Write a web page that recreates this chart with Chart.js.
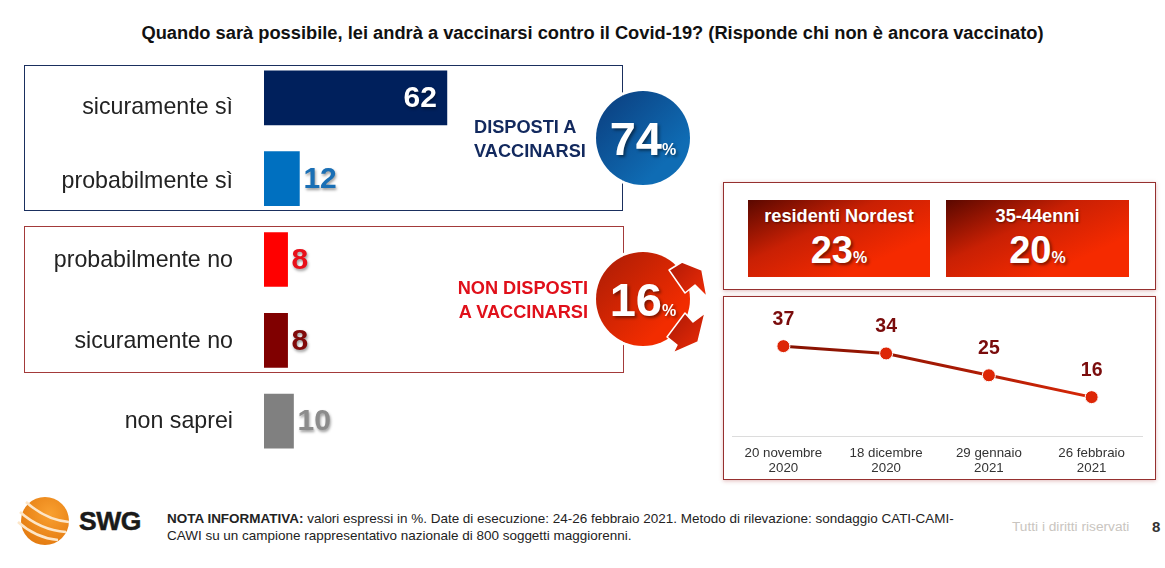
<!DOCTYPE html>
<html lang="it">
<head>
<meta charset="utf-8">
<title>SWG vaccini</title>
<script src="https://cdn.jsdelivr.net/npm/chart.js@4"></script>
<style>
html, body { margin: 0; padding: 0; background: #fff; }
body { width: 1165px; height: 568px; position: relative; overflow: hidden; font-family: "Liberation Sans", Arial, sans-serif; }
.abs { position: absolute; }
canvas { position: absolute; }
#titolo { left: 0; top: 22px; width: 1185px; text-align: center; font-size: 18.3px; font-weight: bold; color: #111; white-space: nowrap; }
.box { position: absolute; box-sizing: border-box; background: #fff; }
#boxBlu { left: 24px; top: 65px; width: 599px; height: 146px; border: 1.5px solid #1a2f5e; }
#boxRosso { left: 24px; top: 226px; width: 600px; height: 147px; border: 1.5px solid #a33a3a; }
#boxTop, #boxLinea { left: 723px; width: 433px; border: 1.5px solid #96302f; box-shadow: 0 1px 4px rgba(170,60,60,.35); }
#boxTop { top: 182px; height: 108px; }
#boxLinea { top: 296px; height: 184px; }
.lab { position: absolute; font-weight: bold; font-size: 18.2px; line-height: 24px; text-align: right; white-space: nowrap; }
.cerchio { position: absolute; width: 94px; height: 94px; border-radius: 50%; color: #fff; font-weight: bold; text-align: center; font-size: 47px; line-height: 96px; text-shadow: 2px 2px 3px rgba(0,0,0,.45); white-space: nowrap; }
.cerchio small { font-size: 16px; }
#c74 { left: 596px; top: 91px; background: linear-gradient(135deg, #0b3c7c 0%, #0f6cb4 75%); box-shadow: 0 0 0 3px #fff; }
#c16 { left: 596px; top: 252px; background: linear-gradient(135deg, #a81c06 0%, #f22c00 75%); box-shadow: 0 0 0 3px #fff; }
.rett { position: absolute; top: 200px; height: 77px; background: linear-gradient(155deg, #5a0800 0%, #c92004 38%, #f52a00 75%); color: #fff; text-align: center; font-weight: bold; }
.rett .t { font-size: 18.2px; margin-top: 5px; line-height: 22px; text-shadow: 1px 1px 2px rgba(0,0,0,.4); white-space: nowrap; }
.rett .n { font-size: 38px; line-height: 46px; text-shadow: 2px 2px 3px rgba(0,0,0,.45); white-space: nowrap; }
.rett .n small { font-size: 16px; }
#nota { left: 167px; top: 510px; width: 810px; font-size: 13.48px; line-height: 17px; color: #222; white-space: nowrap; }
#diritti { left: 1012px; top: 519px; font-size: 13.7px; color: #c9c5c0; white-space: nowrap; }
#pagina { left: 1152px; top: 518px; font-size: 15px; font-weight: bold; color: #333; }
#swg { left: 79px; top: 506px; font-size: 26.5px; font-weight: bold; color: #1a1a1a; letter-spacing: -.5px; -webkit-text-stroke: .5px #1a1a1a; }
</style>
</head>
<body>
<div id="titolo" class="abs">Quando sarà possibile, lei andrà a vaccinarsi contro il Covid-19? (Risponde chi non è ancora vaccinato)</div>

<div id="boxBlu" class="box"></div>
<div id="boxRosso" class="box"></div>
<div id="boxTop" class="box"></div>
<div id="boxLinea" class="box"></div>

<canvas id="barre" width="559" height="420" style="left:0;top:50px;width:559px;height:420px"></canvas>
<canvas id="linea" width="411" height="176" style="left:732px;top:300px;width:411px;height:176px"></canvas>

<div class="lab" style="left:440px;top:115px;width:148px;color:#12295e;text-align:left;padding-left:34px;box-sizing:border-box">DISPOSTI A<br>VACCINARSI</div>
<div class="lab" style="left:440px;top:276px;width:148px;color:#e0101a">NON DISPOSTI<br>A VACCINARSI</div>

<div id="c74" class="cerchio">74<small>%</small></div>
<div id="c16" class="cerchio">16<small>%</small></div>

<svg class="abs" style="left:660px;top:245px" width="60" height="115" viewBox="0 0 60 115">
  <defs>
    <linearGradient id="fr" x1="0" y1="0" x2="1" y2="1"><stop offset="0" stop-color="#a81806"/><stop offset="1" stop-color="#f02c06"/></linearGradient>
  </defs>
  <path d="M15 7 L22 17 L42 25 L47 52 L35 40 L25 48 L9 25 L22 17 Z" fill="url(#fr)" stroke="#fff" stroke-width="1.5" stroke-linejoin="round"/>
  <path d="M45 68 L38 97 L13 108 L17 100 L7 92 L25 68 L33 77 Z" fill="url(#fr)" stroke="#fff" stroke-width="1.5" stroke-linejoin="round"/>
</svg>

<div class="rett" style="left:748px;width:182px"><div class="t">residenti Nordest</div><div class="n">23<small>%</small></div></div>
<div class="rett" style="left:946px;width:183px"><div class="t">35-44enni</div><div class="n">20<small>%</small></div></div>

<svg class="abs" style="left:12px;top:494px" width="62" height="54" viewBox="0 0 62 54">
  <defs>
    <radialGradient id="sf" cx=".6" cy=".35" r=".75"><stop offset="0" stop-color="#f9a030"/><stop offset="1" stop-color="#e2780e"/></radialGradient>
  </defs>
  <circle cx="33" cy="27" r="24" fill="url(#sf)"/>
  <path d="M8 18 Q28 36 54 38 M6 28 Q24 44 46 46 M14 8 Q34 26 57 28" stroke="#fde6c8" stroke-width="2.5" fill="none"/>
</svg>
<div id="swg" class="abs">SWG</div>

<div id="nota" class="abs"><b>NOTA INFORMATIVA:</b> valori espressi in %. Date di esecuzione: 24-26 febbraio 2021. Metodo di rilevazione: sondaggio CATI-CAMI-<br>CAWI su un campione rappresentativo nazionale di 800 soggetti maggiorenni.</div>
<div id="diritti" class="abs">Tutti i diritti riservati</div>
<div id="pagina" class="abs">8</div>

<script>
const categorie = ["sicuramente sì", "probabilmente sì", "probabilmente no", "sicuramente no", "non saprei"];
const valori = [62, 12, 8, 8, 10];
const coloriBarre = ["#00205c", "#0070c0", "#ff0000", "#800000", "#808080"];
const coloriEtichette = ["#ffffff", "#1a6fb5", "#e8101a", "#800a0a", "#8c8c8c"];

const date = [["20 novembre", "2020"], ["18 dicembre", "2020"], ["29 gennaio", "2021"], ["26 febbraio", "2021"]];
const trend = [37, 34, 25, 16];

const FONT = '"Liberation Sans", Arial, sans-serif';

// la scala aggiunge padding per le etichette: qui serve l'area esatta
function azzeraPadding(scale) {
    scale.paddingTop = 0;
    scale.paddingBottom = 0;
    scale.paddingLeft = 0;
    scale.paddingRight = 0;
}

// nell'originale le prime etichette non sono centrate sulla barra
const spostaEtichette = {
    id: "spostaEtichette",
    beforeDraw(chart) {
        const scarti = [10, 3, 1, 1, 1];
        chart.scales.y.getLabelItems().forEach((item, i) => {
            item.options.translation[1] += scarti[i];
        });
    }
};

// etichette delle barre, dentro la prima e fuori dalle altre
const etichetteBarre = {
    id: "etichetteBarre",
    afterDatasetsDraw(chart) {
        const ctx = chart.ctx;
        chart.getDatasetMeta(0).data.forEach((bar, i) => {
            ctx.save();
            ctx.font = "bold 30px " + FONT;
            ctx.textBaseline = "middle";
            ctx.fillStyle = coloriEtichette[i];
            ctx.shadowColor = "rgba(0,0,0,0.4)";
            ctx.shadowBlur = 3;
            ctx.shadowOffsetX = 1;
            ctx.shadowOffsetY = 2;
            if (i === 0) {
                ctx.textAlign = "right";
                ctx.fillText(valori[i], bar.x - 10, bar.y + 1);
            } else {
                ctx.textAlign = "left";
                ctx.fillText(valori[i], bar.x + 4, bar.y + 1);
            }
            ctx.restore();
        });
    }
};

new Chart(document.getElementById("barre"), {
    type: "bar",
    plugins: [spostaEtichette, etichetteBarre],
    data: {
        labels: categorie,
        datasets: [{ data: valori, backgroundColor: coloriBarre, barThickness: 54 }]
    },
    options: {
        indexAxis: "y",
        responsive: false,
        maintainAspectRatio: false,
        animation: false,
        layout: { padding: { top: 7.5, bottom: 8.5, left: 0, right: 0 } },
        plugins: { legend: { display: false }, tooltip: { enabled: false } },
        scales: {
            x: { display: false, min: 0, max: 100 },
            y: {
                afterFit(scale) { scale.width = 264; azzeraPadding(scale); },
                grid: { display: false },
                border: { display: false },
                ticks: { color: "#222", font: { family: FONT, size: 23.2 }, padding: 23 }
            }
        }
    }
});

// etichette sopra i punti della linea
const etichetteLinea = {
    id: "etichetteLinea",
    afterDatasetsDraw(chart) {
        const ctx = chart.ctx;
        chart.getDatasetMeta(0).data.forEach((pt, i) => {
            ctx.save();
            ctx.font = "bold 19.5px " + FONT;
            ctx.textAlign = "center";
            ctx.textBaseline = "middle";
            ctx.fillStyle = "#7a0c0c";
            ctx.fillText(trend[i], pt.x, pt.y - 27);
            ctx.restore();
        });
    }
};

new Chart(document.getElementById("linea"), {
    type: "line",
    plugins: [etichetteLinea],
    data: {
        labels: date,
        datasets: [{
            data: trend,
            tension: 0,
            borderWidth: 3,
            borderColor(c) {
                const area = c.chart.chartArea;
                if (!area) return "#c02008";
                const g = c.chart.ctx.createLinearGradient(area.left, 0, area.right, 0);
                g.addColorStop(0, "#7a0f00");
                g.addColorStop(0.55, "#a81a04");
                g.addColorStop(1, "#ea2c08");
                return g;
            },
            pointRadius: 6.5,
            pointBackgroundColor: "#dd2606",
            pointBorderColor: "#ffffff",
            pointBorderWidth: 1
        }]
    },
    options: {
        responsive: false,
        maintainAspectRatio: false,
        animation: false,
        layout: { padding: 0, autoPadding: false },
        plugins: { legend: { display: false }, tooltip: { enabled: false } },
        scales: {
            y: { display: false, min: 0, max: 56 },
            x: {
                offset: true,
                afterFit(scale) { scale.height = 40; azzeraPadding(scale); },
                grid: { display: false },
                border: { color: "#dcdcdc", width: 1 },
                ticks: { color: "#333", font: { family: FONT, size: 13.3, lineHeight: 1.13 }, padding: 2, maxRotation: 0, autoSkip: false }
            }
        }
    }
});
</script>
</body>
</html>
